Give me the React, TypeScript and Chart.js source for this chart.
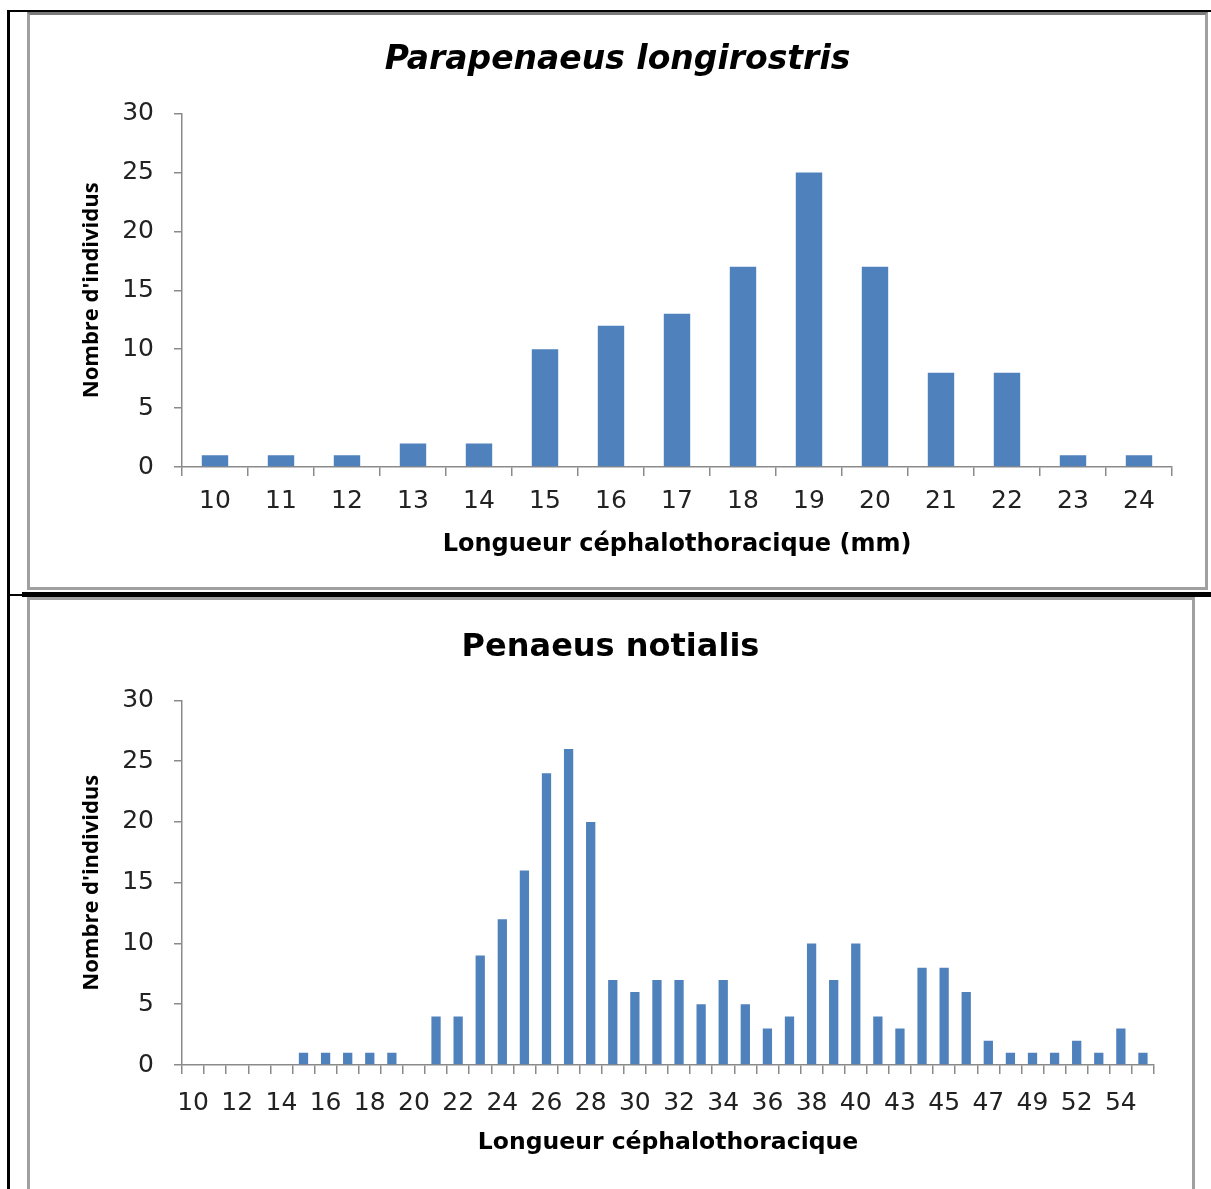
import React, { useEffect, useRef } from "react";
import { Chart, registerables } from "chart.js";

Chart.register(...registerables);

// ---- Data ----
const title1 = "Parapenaeus longirostris";
const categories1 = ["10", "11", "12", "13", "14", "15", "16", "17", "18", "19", "20", "21", "22", "23", "24"];
const values1 = [1, 1, 1, 2, 2, 10, 12, 13, 17, 25, 17, 8, 8, 1, 1];
const xTitle1 = "Longueur céphalothoracique (mm)";

const title2 = "Penaeus notialis";
const categories2 = [
  "10", "11", "12", "13", "14", "15", "16", "17", "18", "19",
  "20", "21", "22", "23", "24", "25", "26", "27", "28", "29",
  "30", "31", "32", "33", "34", "35", "36", "37", "38", "39",
  "40", "41", "43", "44", "45", "46", "47", "48", "49", "50",
  "52", "53", "54", "55",
];
const values2 = [
  0, 0, 0, 0, 0, 1, 1, 1, 1, 1,
  0, 4, 4, 9, 12, 16, 24, 26, 20, 7,
  6, 7, 7, 5, 7, 5, 3, 4, 10, 7,
  10, 4, 3, 8, 8, 6, 2, 1, 1, 1,
  2, 1, 3, 1,
];
const xTitle2 = "Longueur céphalothoracique";

const yTitle = "Nombre d'individus";
const yMin = 0;
const yMax = 30;
const yStep = 5;

const BAR_COLOR = "#4F81BD";
const AXIS_COLOR = "#8a8a8a";
const TICK_FONT = "'DejaVu Sans', sans-serif";
const TITLE_FONT = "'DejaVu Sans', sans-serif";
const YTITLE_FONT = "'Open Sans', sans-serif";

type Cfg = {
  labels: string[];
  values: number[];
  title: string;
  titleItalic: boolean;
  titleSize: number;
  xTitle: string;
  xTitleSize: number;
  width: number;
  height: number;
  yAxisWidth: number;
  xAxisHeight: number;
  rightPad: number;
  titlePadTop: number;
  titlePadBottom: number;
  xTickPad: number;
  xTitlePadBottom: number;
  yTitlePadTop: number;
  barPct: number;
  skipOdd: boolean;
};

function BarChart(props: { cfg: Cfg }) {
  const ref = useRef<HTMLCanvasElement | null>(null);
  const c = props.cfg;
  useEffect(() => {
    if (!ref.current) return;
    const chart = new Chart(ref.current, {
      type: "bar",
      data: {
        labels: c.labels,
        datasets: [
          {
            data: c.values,
            backgroundColor: BAR_COLOR,
            borderWidth: 0,
            categoryPercentage: 1,
            barPercentage: c.barPct,
            yAxisID: "y",
          },
        ],
      },
      options: {
        animation: false,
        responsive: false,
        maintainAspectRatio: false,
        events: [],
        layout: { padding: 0 },
        plugins: {
          legend: { display: false },
          tooltip: { enabled: false },
          title: {
            display: true,
            text: c.title,
            color: "#000",
            font: {
              family: TITLE_FONT,
              size: c.titleSize,
              weight: "bold",
              style: c.titleItalic ? "italic" : "normal",
            },
            padding: { top: c.titlePadTop, bottom: c.titlePadBottom },
          },
        },
        scales: {
          x: {
            offset: true,
            grid: {
              display: true,
              offset: true,
              drawOnChartArea: false,
              drawTicks: true,
              tickLength: 9,
              color: AXIS_COLOR,
              lineWidth: 1.5,
            },
            border: { display: true, color: AXIS_COLOR, width: 1.5 },
            ticks: {
              autoSkip: false,
              maxRotation: 0,
              minRotation: 0,
              padding: c.xTickPad,
              color: "#222",
              font: { family: TICK_FONT, size: 25 },
              callback: function (this: any, _v: any, idx: number) {
                if (c.skipOdd && idx % 2 === 1) return "";
                return c.labels[idx];
              },
            },
            title: {
              display: true,
              text: c.xTitle,
              color: "#000",
              font: { family: TITLE_FONT, size: c.xTitleSize, weight: "bold" },
              padding: { top: 0, bottom: c.xTitlePadBottom },
            },
            afterFit: (scale: any) => {
              scale.height = c.xAxisHeight;
            },
          },
          y: {
            position: "left",
            min: yMin,
            max: yMax,
            grid: {
              display: true,
              drawOnChartArea: false,
              drawTicks: true,
              tickLength: 8,
              color: AXIS_COLOR,
              lineWidth: 1.5,
            },
            border: { display: true, color: AXIS_COLOR, width: 1.5 },
            ticks: {
              stepSize: yStep,
              padding: 20,
              color: "#222",
              font: { family: TICK_FONT, size: 25 },
            },
            title: {
              display: true,
              text: yTitle,
              color: "#000",
              font: { family: YTITLE_FONT, size: 22, weight: "bold" },
              padding: { top: c.yTitlePadTop, bottom: 0 },
            },
            afterFit: (scale: any) => {
              scale.width = c.yAxisWidth;
            },
          },
          yRight: {
            type: "linear",
            position: "right",
            display: true,
            grid: { display: false, drawTicks: false },
            border: { display: false },
            ticks: { display: false },
            title: { display: false },
            afterFit: (scale: any) => {
              scale.width = c.rightPad;
            },
          },
        },
      },
    });
    return () => chart.destroy();
  }, []);
  return (
    <canvas
      ref={ref}
      width={c.width}
      height={c.height}
      style={{ width: c.width, height: c.height, display: "block" }}
    />
  );
}

const cfg1: Cfg = {
  labels: categories1,
  values: values1,
  title: title1,
  titleItalic: true,
  titleSize: 33,
  xTitle: xTitle1,
  xTitleSize: 24,
  width: 1175,
  height: 572,
  yAxisWidth: 152,
  xAxisHeight: 120,
  rightPad: 33,
  titlePadTop: 26,
  titlePadBottom: 33,
  xTickPad: 10,
  xTitlePadBottom: 28,
  yTitlePadTop: 49,
  barPct: 0.4,
  skipOdd: false,
};

const cfg2: Cfg = {
  labels: categories2,
  values: values2,
  title: title2,
  titleItalic: false,
  titleSize: 32,
  xTitle: xTitle2,
  xTitleSize: 23.5,
  width: 1161,
  height: 588,
  yAxisWidth: 152,
  xAxisHeight: 123,
  rightPad: 37,
  titlePadTop: 28,
  titlePadBottom: 34,
  xTickPad: 14,
  xTitlePadBottom: 31,
  yTitlePadTop: 49,
  barPct: 0.42,
  skipOdd: true,
};

const abs = (s: React.CSSProperties): React.CSSProperties => ({ position: "absolute", ...s });

export default function App() {
  return (
    <div
      style={abs({ left: 0, top: 0, width: 1211, height: 1189, overflow: "hidden", background: "#fff" })}
    >
      {/* outer black lines */}
      <div style={abs({ left: 7, top: 10, width: 3, height: 1179, background: "#000" })} />
      <div style={abs({ left: 7, top: 10, width: 1204, height: 2, background: "#000" })} />
      {/* chart 1 frame */}
      <div
        style={abs({
          left: 27,
          top: 12,
          width: 1175,
          height: 572,
          border: "3px solid #a0a0a0",
          borderTopColor: "#7a7a7a",
        })}
      />
      <div style={abs({ left: 30, top: 15 })}>
        <BarChart cfg={cfg1} />
      </div>
      {/* separator */}
      <div style={abs({ left: 7, top: 594, width: 16, height: 2, background: "#000" })} />
      <div style={abs({ left: 22, top: 592, width: 1189, height: 5, background: "#000" })} />
      {/* chart 2 frame */}
      <div
        style={abs({
          left: 27,
          top: 597,
          width: 1162,
          height: 600,
          border: "3px solid #a0a0a0",
        })}
      />
      <div style={abs({ left: 30, top: 600 })}>
        <BarChart cfg={cfg2} />
      </div>
    </div>
  );
}
